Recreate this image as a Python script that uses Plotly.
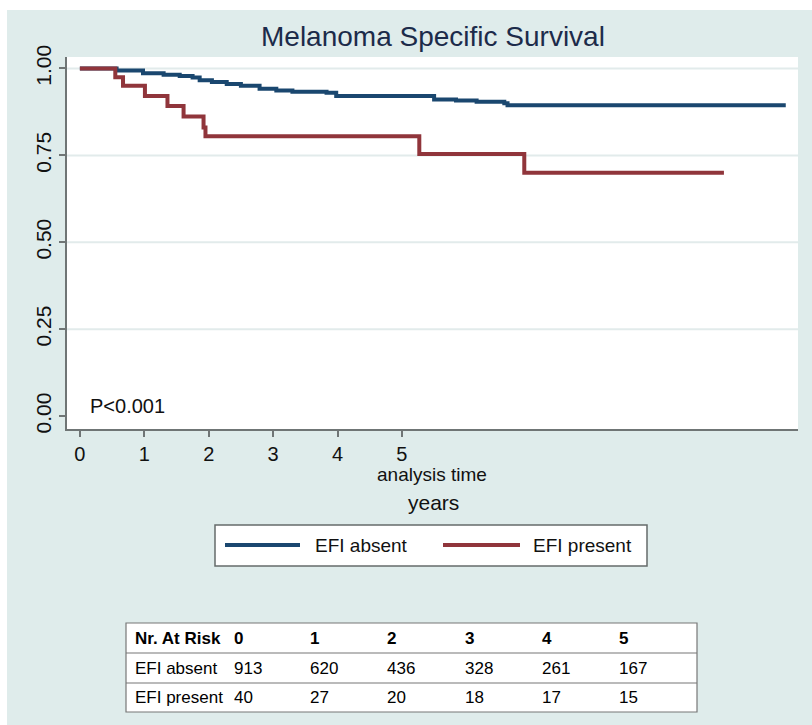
import plotly.graph_objects as go

# ---------------- data ----------------
absent_time = [0, 0.57, 0.98, 1.30, 1.55, 1.75, 1.86, 2.05, 2.28, 2.50, 2.79, 3.05, 3.30, 3.83, 3.98,
               5.50, 5.84, 6.16, 6.59, 6.64, 10.96]
absent_surv = [1.0, 0.994, 0.986, 0.982, 0.978, 0.974, 0.966, 0.961, 0.955, 0.950, 0.942, 0.937, 0.933,
               0.930, 0.921, 0.911, 0.908, 0.904, 0.900, 0.894, 0.894]

present_time = [0, 0.55, 0.67, 1.01, 1.36, 1.61, 1.92, 1.95, 5.27, 6.90, 10.0]
present_surv = [1.0, 0.975, 0.95, 0.921, 0.892, 0.862, 0.83, 0.805, 0.754, 0.70, 0.70]

x_ticks = [0, 1, 2, 3, 4, 5]
y_ticks = [0.0, 0.25, 0.5, 0.75, 1.0]

series_names = ["EFI absent", "EFI present"]
series_colors = ["#1a476f", "#90353b"]

risk_header = ["Nr. At Risk", "0", "1", "2", "3", "4", "5"]
risk_absent = ["EFI absent", "913", "620", "436", "328", "261", "167"]
risk_present = ["EFI present", "40", "27", "20", "18", "17", "15"]

title_text = "Melanoma Specific Survival"
p_text = "P<0.001"

# ---------------- layout geometry ----------------
W, H = 812, 725
ML, MR, MT, MB = 67, 14, 57, 296
PW, PH = W - ML - MR, H - MT - MB
BG = "#dfeceb"
FONT = "Liberation Sans, Arial, Helvetica, sans-serif"


def px(x):
    return (x - ML) / PW


def py(y):
    return (H - MB - y) / PH


fig = go.Figure()
for t, s, name, col in [(absent_time, absent_surv, series_names[0], series_colors[0]),
                        (present_time, present_surv, series_names[1], series_colors[1])]:
    fig.add_trace(go.Scatter(x=t, y=s, mode="lines", line=dict(shape="hv", color=col, width=4),
                             name=name, showlegend=False))

shapes = []
# white strips around the panel
shapes.append(dict(type="rect", xref="paper", yref="paper", x0=px(0), x1=px(W), y0=py(0), y1=py(10),
                   fillcolor="white", line=dict(width=0), layer="below"))
shapes.append(dict(type="rect", xref="paper", yref="paper", x0=px(0), x1=px(7), y0=py(0), y1=py(H),
                   fillcolor="white", line=dict(width=0), layer="below"))
# gridlines
for v in y_ticks[1:]:
    shapes.append(dict(type="line", xref="paper", yref="y", x0=0, x1=1, y0=v, y1=v,
                       line=dict(color="#e2ebeb", width=2), layer="below"))

# legend box
shapes.append(dict(type="rect", xref="paper", yref="paper", x0=px(215), x1=px(647), y0=py(525), y1=py(566),
                   fillcolor="white", line=dict(color="#666b6b", width=1.5)))
leg_line_x = [(225, 300), (443, 520)]
leg_text_x = [313, 531]
annotations = []
for (a, b), tx, name, col in zip(leg_line_x, leg_text_x, series_names, series_colors):
    shapes.append(dict(type="line", xref="paper", yref="paper", x0=px(a), x1=px(b), y0=py(545), y1=py(545),
                       line=dict(color=col, width=4)))
    annotations.append(dict(xref="paper", yref="paper", x=px(tx), y=py(545), text=name, showarrow=False,
                            xanchor="left", yanchor="middle", font=dict(family=FONT, size=19, color="#111")))

# risk table
shapes.append(dict(type="rect", xref="paper", yref="paper", x0=px(126), x1=px(697), y0=py(623), y1=py(712),
                   fillcolor="white", line=dict(color="#777", width=1.2)))
for yl in [653, 683]:
    shapes.append(dict(type="line", xref="paper", yref="paper", x0=px(126), x1=px(697), y0=py(yl), y1=py(yl),
                       line=dict(color="#777", width=1.2)))
col_x = [133, 232, 308, 385, 463, 540, 617]
row_y = [638, 668, 697]
for r, (row, yy) in enumerate(zip([risk_header, risk_absent, risk_present], row_y)):
    for cell, xx in zip(row, col_x):
        txt = f"<b>{cell}</b>" if r == 0 else cell
        annotations.append(dict(xref="paper", yref="paper", x=px(xx), y=py(yy), text=txt, showarrow=False,
                                xanchor="left", yanchor="middle",
                                font=dict(family=FONT, size=17, color="#000")))

# texts
annotations.append(dict(xref="paper", yref="paper", x=px(433), y=py(36), text=title_text, showarrow=False,
                        xanchor="center", yanchor="middle", font=dict(family=FONT, size=28, color="#1c2b4a")))
annotations.append(dict(xref="paper", yref="paper", x=px(88), y=py(406), text=p_text, showarrow=False,
                        xanchor="left", yanchor="middle", font=dict(family=FONT, size=20, color="#111")))
annotations.append(dict(xref="paper", yref="paper", x=px(432), y=py(475), text="analysis time", showarrow=False,
                        xanchor="center", yanchor="middle", font=dict(family=FONT, size=19, color="#111")))
annotations.append(dict(xref="paper", yref="paper", x=px(433), y=py(502), text="years", showarrow=False,
                        xanchor="center", yanchor="middle", font=dict(family=FONT, size=21, color="#111")))

fig.update_layout(
    width=W, height=H, margin=dict(l=ML, r=MR, t=MT, b=MB, pad=0, autoexpand=False),
    paper_bgcolor=BG, plot_bgcolor="white",
    shapes=shapes, annotations=annotations, showlegend=False,
    xaxis=dict(range=[-0.2, 11.15], tickvals=x_ticks, ticktext=[str(v) for v in x_ticks],
               showgrid=False, zeroline=False, showline=True, linecolor="#6f7575", linewidth=2,
               ticks="outside", ticklen=6, tickcolor="#6f7575", tickwidth=1.5, automargin=False,
               tickfont=dict(family=FONT, size=20, color="#111")),
    yaxis=dict(range=[-0.037, 1.033], tickvals=y_ticks, ticktext=[f"{v:.2f}" for v in y_ticks],
               showgrid=False, zeroline=False, showline=True, linecolor="#6f7575", linewidth=1.5,
               ticks="outside", ticklen=6, tickcolor="#6f7575", tickwidth=1.5, tickangle=-90,
               automargin=False, tickfont=dict(family=FONT, size=21, color="#111")),
)

fig.write_html("out.html", config={"displayModeBar": False},
               post_script="document.body.style.margin='0';document.body.style.padding='0';")
